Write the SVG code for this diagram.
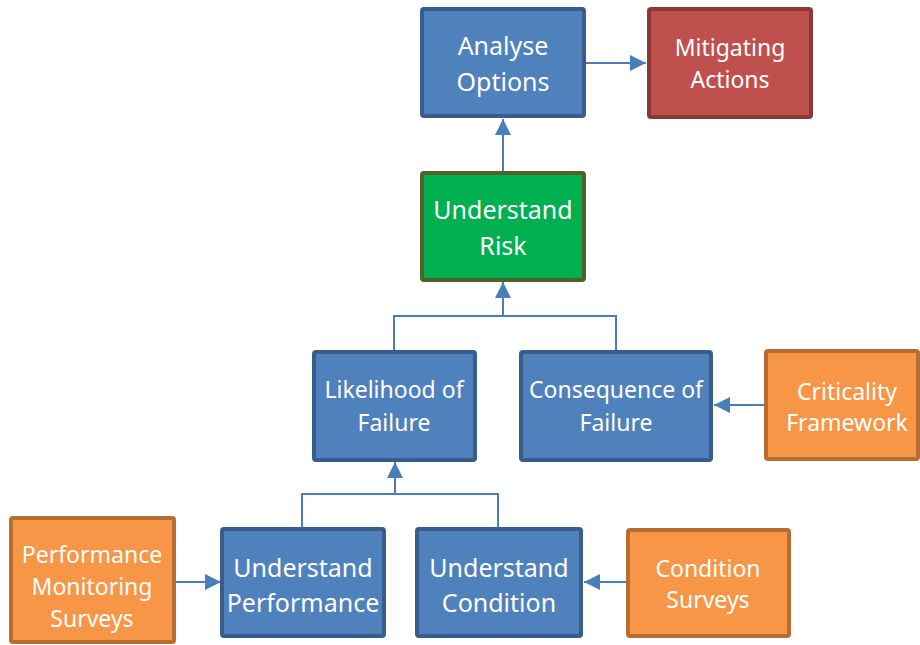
<svg xmlns="http://www.w3.org/2000/svg" width="920" height="645" viewBox="0 0 920 645">
  <style>
    .box rect { stroke-width: 4; }
    .blue rect { fill: #4F81BD; stroke: #385D8A; }
    .red rect { fill: #C0504D; stroke: #8C3836; }
    .green rect { fill: #00B050; stroke: #4F6228; }
    .orange rect { fill: #F79646; stroke: #B66D31; }
    .box text { fill: #FFFFFF; font-family: "Noto Sans", "Open Sans", "Liberation Sans", sans-serif; text-anchor: middle; }
    .lg text { font-size: 25px; }
    .sm text { font-size: 23px; }
    .conn { fill: none; stroke: #4A7EBB; stroke-width: 2; }
  </style>
  <defs>
    <marker id="arrow" viewBox="0 0 10 10" refX="10" refY="5" markerUnits="userSpaceOnUse" markerWidth="16" markerHeight="16" orient="auto">
      <path d="M0,0 L10,5 L0,10 Z" fill="#4A7EBB"/>
    </marker>
  </defs>
  <rect width="920" height="645" fill="#FFFFFF"/>

  <g id="connectors">
    <path class="conn" d="M586,63 L646,63" marker-end="url(#arrow)"/>
    <path class="conn" d="M503,171 L503,119" marker-end="url(#arrow)"/>
    <path class="conn" d="M394,350 L394,316 L616,316 L616,350"/>
    <path class="conn" d="M503,316 L503,282" marker-end="url(#arrow)"/>
    <path class="conn" d="M764,405 L714,405" marker-end="url(#arrow)"/>
    <path class="conn" d="M302,527 L302,494 L498,494 L498,527"/>
    <path class="conn" d="M395,494 L395,462" marker-end="url(#arrow)"/>
    <path class="conn" d="M176,582 L221,582" marker-end="url(#arrow)"/>
    <path class="conn" d="M627,582 L584,582" marker-end="url(#arrow)"/>
  </g>

  <g id="analyse-options" class="box blue lg">
    <rect x="422" y="9" width="162" height="107" rx="2"/>
    <text x="503" y="55">Analyse</text>
    <text x="503" y="91">Options</text>
  </g>

  <g id="mitigating-actions" class="box red sm">
    <rect x="649" y="9" width="162" height="108" rx="2"/>
    <text x="730" y="56">Mitigating</text>
    <text x="730" y="88">Actions</text>
  </g>

  <g id="understand-risk" class="box green lg">
    <rect x="422" y="173" width="162" height="107" rx="2"/>
    <text x="503" y="219">Understand</text>
    <text x="503" y="255">Risk</text>
  </g>

  <g id="likelihood-of-failure" class="box blue sm">
    <rect x="314" y="352" width="161" height="108" rx="2"/>
    <text x="394" y="398">Likelihood of</text>
    <text x="394" y="431">Failure</text>
  </g>

  <g id="consequence-of-failure" class="box blue sm">
    <rect x="521" y="352" width="190" height="108" rx="2"/>
    <text x="616" y="398">Consequence of</text>
    <text x="616" y="431">Failure</text>
  </g>

  <g id="criticality-framework" class="box orange sm">
    <rect x="766" y="351" width="152" height="108" rx="2"/>
    <text x="847" y="400">Criticality</text>
    <text x="847" y="431">Framework</text>
  </g>

  <g id="performance-monitoring-surveys" class="box orange sm">
    <rect x="11" y="518" width="163" height="124" rx="2"/>
    <text x="92" y="563">Performance</text>
    <text x="92" y="595">Monitoring</text>
    <text x="92" y="627">Surveys</text>
  </g>

  <g id="understand-performance" class="box blue lg">
    <rect x="222" y="529" width="162" height="107" rx="2"/>
    <text x="303" y="577">Understand</text>
    <text x="303" y="612">Performance</text>
  </g>

  <g id="understand-condition" class="box blue lg">
    <rect x="417" y="529" width="164" height="107" rx="2"/>
    <text x="499" y="577">Understand</text>
    <text x="499" y="612">Condition</text>
  </g>

  <g id="condition-surveys" class="box orange sm">
    <rect x="628" y="530" width="161" height="106" rx="2"/>
    <text x="708" y="577">Condition</text>
    <text x="708" y="608">Surveys</text>
  </g>
</svg>
